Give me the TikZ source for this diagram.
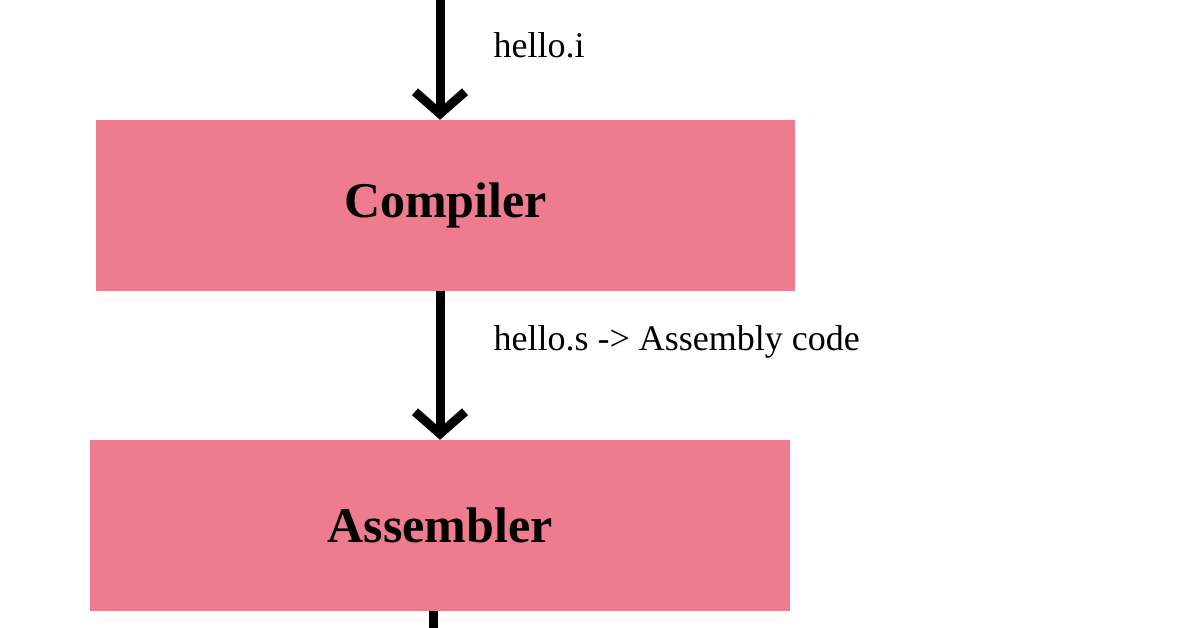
\documentclass[tikz,border=0pt]{standalone}
\usepackage{fontspec}
\setmainfont{Liberation Serif}
\usetikzlibrary{arrows.meta}
\definecolor{boxpink}{HTML}{EE7B8E}
\begin{document}
\begin{tikzpicture}[x=1pt,y=-1pt,
  stage/.style={fill=boxpink,draw=none,inner sep=0pt,font=\fontsize{50}{56}\selectfont\bfseries},
  flow/.style={line width=9pt,-{Straight Barb[length=22pt,width=50pt,line width=9pt]}},
  lbl/.style={anchor=west,font=\fontsize{36}{40}\selectfont}]
\useasboundingbox (0,0) rectangle (1196,628);
\node[stage,minimum width=699pt,minimum height=171pt] (comp) at (445.5,205.5) {Compiler};
\node[stage,minimum width=700pt,minimum height=171pt] (asm) at (440,525.5) {Assembler};
\coordinate (top) at (440,-5);
\coordinate (bot) at (433,640);
\draw[flow] (top) -- (comp.north -| top);
\draw[flow] (comp.south -| top) -- (asm.north -| top);
\draw[line width=9pt] (asm.south -| bot) -- (bot);
\node[lbl] (l1) at (490,45) {hello.i};
\node[lbl] (l2) at (490,342) {hello.s -> Assembly code};
\end{tikzpicture}
\end{document}
